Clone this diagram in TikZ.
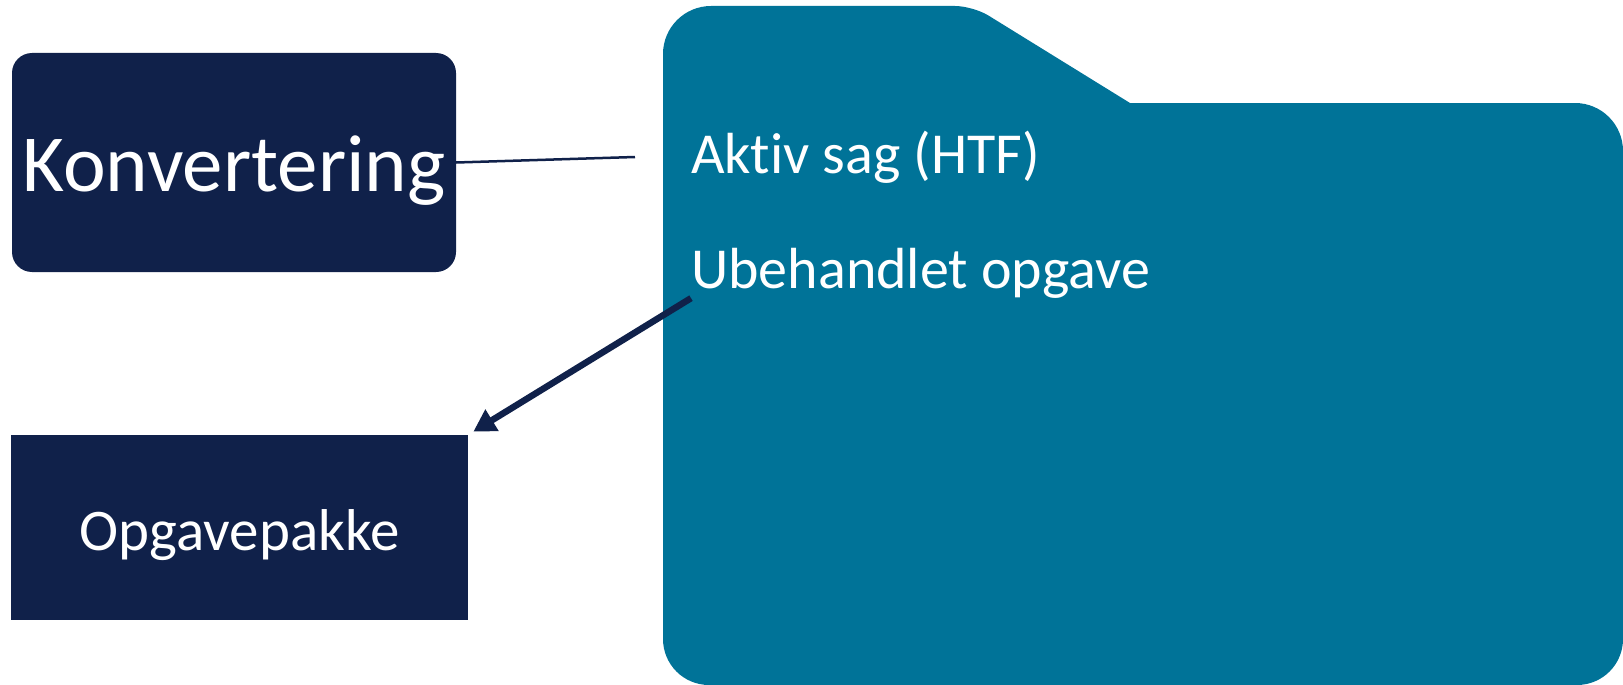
\documentclass[tikz,border=0pt]{standalone}
\usepackage{fontspec}
\setmainfont[Ligatures=NoCommon]{Carlito}
\usetikzlibrary{arrows.meta}
\definecolor{navy}{HTML}{10214A}
\definecolor{folderblue}{HTML}{007398}
\tikzset{
    darkbox/.style={fill=navy,text=white,inner sep=0pt},
    foldertext/.style={text=white,anchor=base west,inner sep=0pt,font=\fontsize{58}{70}\selectfont},
}
\begin{document}
\begin{tikzpicture}[x=1pt,y=-1pt]
        \useasboundingbox (0,0) rectangle (1623,685);
        \fill[folderblue] (663,360) [rounded corners=48] -- (663,6) [rounded corners=18] -- (973,6) [sharp corners] -- (1130,103) [rounded corners=48] -- (1623,103) [rounded corners=46] -- (1623,685) -- (663,685) -- cycle;
        \node[darkbox,rounded corners=20,minimum width=444pt,minimum height=219pt,text height=58pt,text depth=0pt,font=\fontsize{81}{96}\selectfont] (konv) at (234,162.5) {Konvertering};
        \node[darkbox,minimum width=457pt,minimum height=185pt,text height=45pt,text depth=0pt,font=\fontsize{59}{70}\selectfont] (opg) at (239.5,527.5) {Opgavepakke};
        \node[foldertext] (aktiv) at (691,173) {Aktiv sag (HTF)};
        \node[foldertext] (ubeh) at (691,288) {Ubehandlet opgave};
        \coordinate (lineend) at (635,157);
        \draw[navy,line width=2.5pt] (konv.east) -- (lineend);
        \draw[navy,line width=6.5pt,-{Triangle[length=22pt,width=24pt]},shorten >=6pt] (ubeh.south west) -- (opg.north east);
    \end{tikzpicture}
\end{document}
